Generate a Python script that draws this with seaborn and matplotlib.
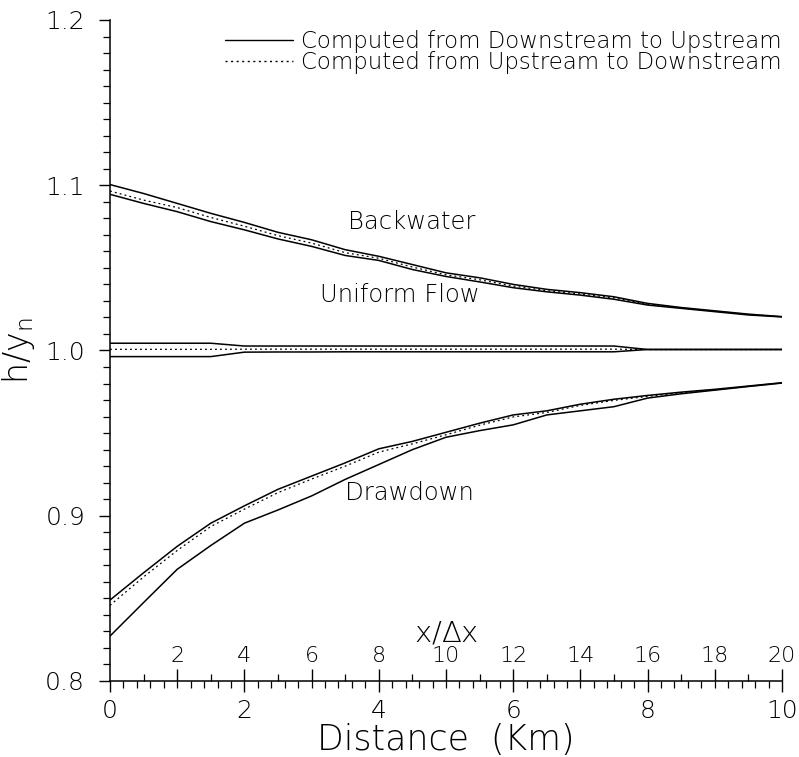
import numpy as np
import matplotlib
matplotlib.use("Agg")
import matplotlib.pyplot as plt
from matplotlib.lines import Line2D
from matplotlib.ticker import MultipleLocator, FixedLocator
import seaborn as sns

# distance along the channel (km), one value per x/dx step
dist_km = [0.0, 0.5, 1.0, 1.5, 2.0, 2.5, 3.0, 3.5, 4.0, 4.5, 5.0,
           5.5, 6.0, 6.5, 7.0, 7.5, 8.0, 8.5, 9.0, 9.5, 10.0]

# backwater profile
bw_upper = [1.1004, 1.095, 1.089, 1.083, 1.0775, 1.0715, 1.067, 1.061, 1.057, 1.052, 1.047,
            1.044, 1.040, 1.037, 1.035, 1.0325, 1.0285, 1.026, 1.024, 1.022, 1.0205]
bw_lower = [1.0945, 1.089, 1.084, 1.078, 1.073, 1.0675, 1.063, 1.0575, 1.0545, 1.049, 1.0448,
            1.0415, 1.038, 1.0355, 1.0335, 1.031, 1.0275, 1.0255, 1.0235, 1.0215, 1.0203]
bw_dotted = [1.0965, 1.091, 1.0865, 1.0805, 1.0752, 1.0695, 1.065, 1.0592, 1.0558, 1.0505, 1.0458,
             1.0428, 1.039, 1.0362, 1.0342, 1.0318, 1.028, 1.0258, 1.0238, 1.0218, 1.0204]

# uniform flow
uf_upper = [1.0044, 1.0044, 1.0044, 1.0044, 1.0027, 1.0027, 1.0027, 1.0027, 1.0027, 1.0027, 1.0027,
            1.0027, 1.0027, 1.0027, 1.0027, 1.0027, 1.0006, 1.0006, 1.0006, 1.0006, 1.0006]
uf_lower = [0.9963, 0.9963, 0.9963, 0.9963, 0.9990, 0.9991, 0.9991, 0.9992, 0.9992, 0.9992, 0.9992,
            0.9992, 0.9992, 0.9992, 0.9992, 0.9992, 1.0006, 1.0006, 1.0006, 1.0006, 1.0006]
uf_dotted = [1.0007, 1.0007, 1.0007, 1.0007, 1.0008, 1.0008, 1.0008, 1.0008, 1.0008, 1.0008, 1.0008,
             1.0008, 1.0008, 1.0008, 1.0008, 1.0008, 1.0006, 1.0006, 1.0006, 1.0006, 1.0006]

# drawdown profile
dd_upper = [0.849, 0.8655, 0.8815, 0.8955, 0.906, 0.916, 0.924, 0.932, 0.9405, 0.945, 0.9505,
            0.956, 0.961, 0.9635, 0.9675, 0.9705, 0.9728, 0.9748, 0.9765, 0.9785, 0.9805]
dd_lower = [0.8272, 0.8475, 0.8676, 0.882, 0.8955, 0.9035, 0.912, 0.922, 0.931, 0.940, 0.9475,
            0.9515, 0.955, 0.961, 0.9635, 0.966, 0.9712, 0.9738, 0.976, 0.9782, 0.9803]
dd_dotted = [0.8458, 0.863, 0.879, 0.8935, 0.904, 0.914, 0.9222, 0.930, 0.9385, 0.9435, 0.949,
             0.9548, 0.9598, 0.9625, 0.9668, 0.9698, 0.9722, 0.9744, 0.9762, 0.9783, 0.9804]

legend_labels = ["Computed from Downstream to Upstream",
                 "Computed from Upstream to Downstream"]

sns.set_theme(style="ticks")
plt.rcParams["font.family"] = ["DejaVu Sans"]
plt.rcParams["font.weight"] = "light"
plt.rcParams["axes.labelweight"] = "light"
plt.rcParams["text.color"] = "black"
plt.rcParams["axes.labelcolor"] = "black"
plt.rcParams["xtick.color"] = "black"
plt.rcParams["ytick.color"] = "black"

fig = plt.figure(figsize=(7.99, 7.57), dpi=100)
ax = fig.add_axes([0.1377, 0.1004, 0.841, 0.8732])

dot_style = (0, (1.5, 2.5))
for ys in [bw_upper, bw_lower, uf_upper, uf_lower, dd_upper, dd_lower]:
    sns.lineplot(x=dist_km, y=ys, ax=ax, color="black", linewidth=1.1)
for ys in [bw_dotted, uf_dotted, dd_dotted]:
    sns.lineplot(x=dist_km, y=ys, ax=ax, color="black", linewidth=0.9, linestyle=dot_style)

ax.text(4.49, 1.0778, "Backwater", ha="center", va="center", fontsize=17.5)
ax.text(4.32, 1.0336, "Uniform Flow", ha="center", va="center", fontsize=17.5)
ax.text(4.46, 0.9138, "Drawdown", ha="center", va="center", fontsize=17.5)

ax.set_xlim(0, 10)
ax.set_ylim(0.8, 1.2)
sns.despine(ax=ax)
for sp in ["left", "bottom"]:
    ax.spines[sp].set_linewidth(1.1)
    ax.spines[sp].set_color("black")

ax.xaxis.set_major_locator(MultipleLocator(2))
ax.xaxis.set_minor_locator(MultipleLocator(0.2))
ax.yaxis.set_major_locator(FixedLocator([0.8, 0.9, 1.0, 1.1, 1.2]))
ax.yaxis.set_minor_locator(MultipleLocator(0.01))
ax.set_yticklabels(["0.8", "0.9", "1.0", "1.1", "1.2"])
ax.tick_params(axis="both", which="major", direction="out", length=8, width=1.0,
               labelsize=18)
ax.tick_params(axis="both", which="minor", direction="out", length=5, width=0.9)
ax.tick_params(axis="y", which="major", pad=10)
ax.tick_params(axis="x", which="major", pad=5)

ax.set_xlabel("Distance  (Km)", fontsize=25, labelpad=0)
ax.set_ylabel(r"h/y$_\mathregular{n}$", fontsize=24, labelpad=6)

# x / dx scale drawn on top of the distance axis
sec = ax.secondary_xaxis(0.0, functions=(lambda d: d * 2, lambda n: n / 2))
sec.set_alignment("top")
sec.xaxis.set_major_locator(FixedLocator(list(range(2, 21, 2))))
sec.xaxis.set_minor_locator(FixedLocator(list(range(1, 20, 2))))
sec.tick_params(axis="x", which="major", direction="out", length=9, width=1.0,
                labelsize=16, pad=2)
sec.tick_params(axis="x", which="minor", direction="out", length=5, width=0.9)
sec.spines["top"].set_visible(False)
sec.set_xlabel(r"x/$\mathregular{\Delta}$x", fontsize=21, labelpad=3)

handles = [Line2D([], [], color="black", linewidth=1.0),
           Line2D([], [], color="black", linewidth=1.0, linestyle=dot_style)]
ax.legend(handles, legend_labels, loc="upper right", bbox_to_anchor=(1.0, 0.985),
          frameon=False, fontsize=16.5, borderaxespad=0, borderpad=0,
          labelspacing=-0.1, handlelength=3.0, handletextpad=0.35)

fig.savefig("out.png", dpi=100, facecolor="white")
